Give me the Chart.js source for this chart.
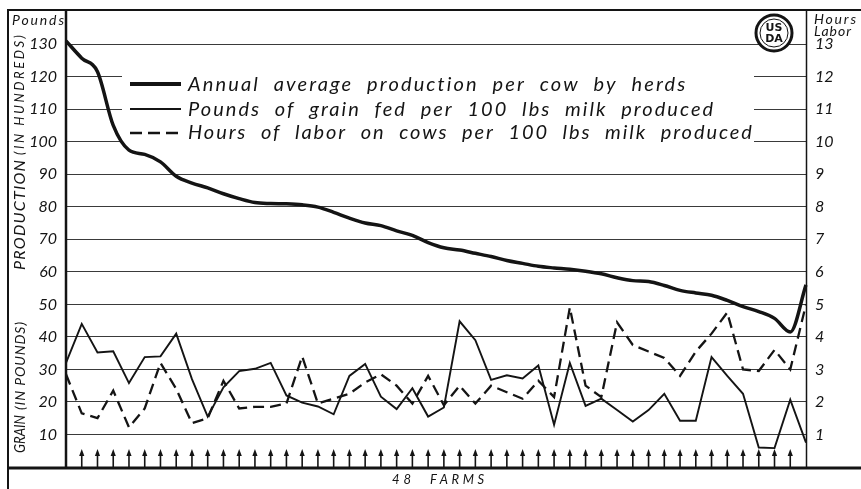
<!DOCTYPE html>
<html>
<head>
<meta charset="utf-8">
<script src="https://cdn.jsdelivr.net/npm/chart.js@4.4.0/dist/chart.umd.min.js"></script>
<style>
html, body { margin: 0; padding: 0; background: #fff; }
</style>
</head>
<body>
<canvas id="grafico" width="861" height="489"></canvas>
<script>
// 48 farms, sorted by production
const fazendas = [1,2,3,4,5,6,7,8,9,10,11,12,13,14,15,16,17,18,19,20,21,22,23,24,
                  25,26,27,28,29,30,31,32,33,34,35,36,37,38,39,40,41,42,43,44,45,46,47,48];

// production per cow (hundreds of pounds)
const producao = [131, 125.7, 121.5, 105, 97.4, 96.1, 93.8, 89.4, 87.3, 85.8, 84, 82.5,
                  81.3, 81, 80.9, 80.6, 79.9, 78.3, 76.5, 75, 74.2, 72.6, 71.2, 69,
                  67.4, 66.7, 65.7, 64.7, 63.5, 62.6, 61.7, 61.2, 60.8, 60.2, 59.4, 58.2,
                  57.3, 57, 55.8, 54.3, 53.5, 52.8, 51.2, 49.3, 47.8, 45.7, 41.5, 56];

// pounds of grain per 100 lbs milk
const grao = [32, 44, 35.2, 35.6, 25.8, 33.8, 34, 41, 27, 15.5, 24.5, 29.5,
              30.2, 32, 22, 19.8, 18.6, 16.2, 28, 31.7, 21.6, 17.8, 24.2, 15.5,
              18.3, 44.8, 39, 26.8, 28.2, 27.2, 31.2, 13, 32, 18.8, 21, 17.5,
              14, 17.5, 22.5, 14.2, 14.2, 33.8, 28, 22.5, 6, 5.8, 20.7, 7.5];

// hours of labor per 100 lbs milk
const horas = [2.85, 1.65, 1.5, 2.35, 1.22, 1.8, 3.2, 2.4, 1.35, 1.5, 2.65, 1.8,
               1.85, 1.85, 1.95, 3.4, 1.95, 2.1, 2.25, 2.6, 2.85, 2.5, 1.95, 2.8,
               1.9, 2.5, 1.95, 2.5, 2.3, 2.1, 2.65, 2.15, 4.9, 2.5, 2.15, 4.45,
               3.75, 3.55, 3.35, 2.8, 3.55, 4.1, 4.75, 3.0, 2.95, 3.6, 3.0, 5.0];

const ticksLibras = [10, 20, 30, 40, 50, 60, 70, 80, 90, 100, 110, 120, 130];
const ticksHoras = [1, 2, 3, 4, 5, 6, 7, 8, 9, 10, 11, 12, 13];

const FONTE = 'Lato, "Open Sans", sans-serif';
const TINTA = '#141414';

// draws text stretched/squeezed to a given width
function textoLargura(ctx, txt, x, y, largura, espPalavra) {
    ctx.letterSpacing = '0px';
    ctx.wordSpacing = (espPalavra || 0) + 'px';
    const w = ctx.measureText(txt).width;
    if ('letterSpacing' in ctx && largura > w && txt.length > 1) {
        ctx.letterSpacing = ((largura - w) / (txt.length - 1)).toFixed(2) + 'px';
        ctx.fillText(txt, x, y);
    } else {
        ctx.save();
        ctx.translate(x, y);
        ctx.scale(largura / w, 1);
        ctx.fillText(txt, 0, 0);
        ctx.restore();
    }
    ctx.letterSpacing = '0px';
    ctx.wordSpacing = '0px';
}

function linha(ctx, x1, y1, x2, y2, lw) {
    ctx.lineWidth = lw;
    ctx.beginPath();
    ctx.moveTo(x1, y1);
    ctx.lineTo(x2, y2);
    ctx.stroke();
}

const decoracao = {
    id: 'decoracao',
    beforeDatasetsDraw(chart) {
        // white panel behind the legend
        const ctx = chart.ctx;
        ctx.save();
        ctx.fillStyle = '#fff';
        ctx.fillRect(122, 60, 632, 96);
        ctx.restore();
    },
    afterDraw(chart) {
        const ctx = chart.ctx;
        const area = chart.chartArea;
        const xs = chart.scales.x;
        ctx.save();
        ctx.strokeStyle = TINTA;
        ctx.fillStyle = TINTA;

        // frame
        linha(ctx, 7, 10, 861, 10, 2);
        linha(ctx, 8, 10, 8, 489, 2);
        linha(ctx, 7, area.bottom + 1, 861, area.bottom + 1, 3);
        linha(ctx, area.left, 10, area.left, area.bottom, 2.5);
        linha(ctx, area.right + 0.5, 10, area.right + 0.5, area.bottom, 1.5);

        // arrows for each farm
        for (let i = 1; i < fazendas.length - 1; i++) {
            const x = xs.getPixelForValue(i);
            linha(ctx, x, area.bottom, x, area.bottom - 12, 1.6);
            ctx.beginPath();
            ctx.moveTo(x - 2.6, area.bottom - 11);
            ctx.lineTo(x + 2.6, area.bottom - 11);
            ctx.lineTo(x, area.bottom - 18);
            ctx.closePath();
            ctx.fill();
        }

        // legend
        const amostras = [
            { y: 84, lw: 4, dash: [] },
            { y: 109, lw: 2, dash: [] },
            { y: 133, lw: 2.4, dash: [12, 6] }
        ];
        const fimTexto = [685, 713, 752];
        const baseTexto = [91, 116, 139];
        ctx.font = 'italic 20px ' + FONTE;
        ctx.textBaseline = 'alphabetic';
        ctx.textAlign = 'left';
        amostras.forEach((a, i) => {
            ctx.setLineDash(a.dash);
            linha(ctx, 130, a.y, 181, a.y, a.lw);
            ctx.setLineDash([]);
            textoLargura(ctx, chart.data.datasets[i].label, 188, baseTexto[i], fimTexto[i] - 188, 7);
        });

        // axis corner labels
        ctx.font = 'italic 14px ' + FONTE;
        textoLargura(ctx, 'Pounds', 12, 25, 52);
        textoLargura(ctx, 'Hours', 814, 24, 42);
        textoLargura(ctx, 'Labor', 814, 36, 37);

        // bottom caption
        ctx.font = 'italic 13px ' + FONTE;
        textoLargura(ctx, '48', 392, 484, 19);
        textoLargura(ctx, 'FARMS', 430, 484, 54);

        // vertical axis title
        ctx.save();
        ctx.translate(20, 453);
        ctx.rotate(-Math.PI / 2);
        ctx.textBaseline = 'middle';
        ctx.font = 'italic 16px ' + FONTE;
        textoLargura(ctx, 'GRAIN', 0, 0, 38);
        ctx.font = 'italic 14px ' + FONTE;
        textoLargura(ctx, '(IN POUNDS)', 43, 0, 88);
        ctx.font = 'italic 16px ' + FONTE;
        textoLargura(ctx, 'PRODUCTION', 183, 0, 110);
        ctx.font = 'italic 13px ' + FONTE;
        textoLargura(ctx, '(IN HUNDREDS)', 298, 0, 120);
        ctx.restore();

        // USDA seal
        const cx = 774, cy = 33;
        ctx.beginPath();
        ctx.arc(cx, cy, 18, 0, Math.PI * 2);
        ctx.fillStyle = '#fff';
        ctx.fill();
        ctx.lineWidth = 3;
        ctx.stroke();
        ctx.beginPath();
        ctx.arc(cx, cy, 14, 0, Math.PI * 2);
        ctx.lineWidth = 1;
        ctx.stroke();
        ctx.fillStyle = TINTA;
        ctx.font = 'bold 11px "DejaVu Sans", sans-serif';
        ctx.textAlign = 'center';
        ctx.textBaseline = 'middle';
        ctx.fillText('US', cx, cy - 5);
        ctx.fillText('DA', cx, cy + 6);
        ctx.restore();
    }
};

new Chart(document.getElementById('grafico'), {
    type: 'line',
    data: {
        labels: fazendas,
        datasets: [
            { label: 'Annual average production per cow by herds', data: producao, yAxisID: 'y',
              borderColor: TINTA, borderWidth: 3.5, pointRadius: 0, cubicInterpolationMode: 'monotone' },
            { label: 'Pounds of grain fed per 100 lbs milk produced', data: grao, yAxisID: 'y',
              borderColor: TINTA, borderWidth: 1.9, pointRadius: 0, tension: 0 },
            { label: 'Hours of labor on cows per 100 lbs milk produced', data: horas, yAxisID: 'yR',
              borderColor: TINTA, borderWidth: 2.3, borderDash: [11, 6], pointRadius: 0, tension: 0 }
        ]
    },
    options: {
        responsive: false,
        animation: false,
        layout: { padding: { top: 10, bottom: 22, left: 0, right: 0 } },
        plugins: { legend: { display: false }, tooltip: { enabled: false } },
        scales: {
            x: { display: false },
            y: {
                position: 'left', min: 0, max: 140.5,
                afterBuildTicks: s => { s.ticks = ticksLibras.map(v => ({ value: v })); },
                afterFit: s => { s.width = 66; s.paddingTop = 0; s.paddingBottom = 0; },
                grid: { color: '#3a3a3a', lineWidth: 1, drawTicks: false },
                border: { display: false },
                ticks: { color: TINTA, padding: 9, font: { family: FONTE, size: 16, style: 'italic' } }
            },
            yR: {
                position: 'right', min: 0, max: 14.05,
                afterBuildTicks: s => { s.ticks = ticksHoras.map(v => ({ value: v })); },
                afterFit: s => { s.width = 55; s.paddingTop = 0; s.paddingBottom = 0; },
                grid: { display: false, drawTicks: false },
                border: { display: false },
                ticks: { color: TINTA, padding: 9, crossAlign: 'near', font: { family: FONTE, size: 16, style: 'italic' } }
            }
        }
    },
    plugins: [decoracao]
});
</script>
</body>
</html>
